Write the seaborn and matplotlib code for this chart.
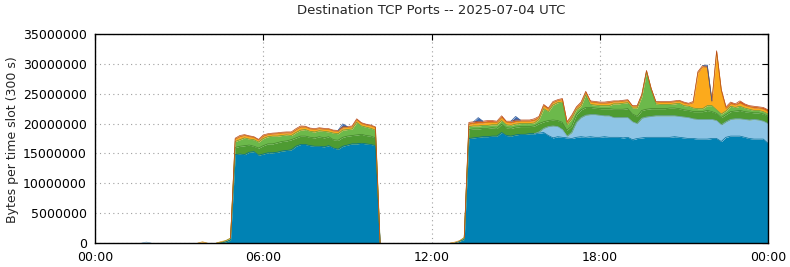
import numpy as np
import pandas as pd
import matplotlib
matplotlib.use("Agg")
import matplotlib.pyplot as plt
import matplotlib.colors as mcolors
from matplotlib.ticker import FuncFormatter, FixedLocator
import seaborn as sns

# ---------------- data (millions of bytes per 300 s slot, read on a 10-min grid) -------------
tick_hours = [0, 6, 12, 18, 24]
tick_labels = ["00:00", "06:00", "12:00", "18:00", "00:00"]
title = "Destination TCP Ports -- 2025-07-04 UTC"
ylabel = "Bytes per time slot (300 s)"

# block 1: 05:00 .. 10:00
teal_b1 = [14.8, 14.9, 14.8, 15.2, 15.3, 14.7, 14.9, 15.1, 15.1, 15.2, 15.4, 15.5, 15.6, 16.2, 16.5,
           16.5, 16.3, 16.2, 16.2, 16.1, 16.3, 15.9, 15.7, 16.2, 16.4, 16.6, 16.6, 16.7, 16.6, 16.5, 16.3]
dgreen_b1 = [1.2, 1.3, 1.5, 1.2, 0.9, 1.2, 1.4, 1.5, 1.5, 1.6, 1.6, 1.6, 1.7, 1.4, 1.4,
             1.4, 1.4, 1.4, 1.6, 1.5, 1.5, 1.4, 1.5, 1.5, 1.5, 1.4, 1.5, 1.5, 1.4, 1.4, 1.3]
lgreen_b1 = [1.0, 1.1, 1.3, 1.0, 1.1, 1.0, 1.2, 1.2, 1.3, 1.1, 1.0, 1.0, 0.7, 0.9, 1.0,
             1.1, 1.0, 1.0, 1.0, 1.1, 0.8, 1.1, 1.1, 1.2, 1.1, 1.1, 2.1, 1.4, 1.4, 1.3, 1.3]
orange_b1 = [0.4, 0.5, 0.4, 0.4, 0.35, 0.3, 0.4, 0.35, 0.35, 0.4, 0.4, 0.35, 0.4, 0.45, 0.5,
             0.4, 0.4, 0.4, 0.35, 0.35, 0.4, 0.35, 0.4, 0.4, 0.35, 0.35, 0.4, 0.4, 0.35, 0.4, 0.4]
red_b1 = [0.15, 0.2, 0.15, 0.15, 0.15, 0.15, 0.2, 0.15, 0.15, 0.15, 0.15, 0.15, 0.2, 0.2, 0.2,
          0.15, 0.15, 0.15, 0.15, 0.15, 0.15, 0.15, 0.15, 0.15, 0.15, 0.15, 0.2, 0.15, 0.15, 0.15, 0.15]
blue_b1 = [0] * 23 + [0.5] + [0] * 7

# block 2: 13:20 .. 24:00
teal_b2 = [17.5, 17.6, 17.7, 17.8, 17.8, 17.9, 17.9, 18.5, 18.0, 17.9, 18.1, 18.2, 18.2, 18.3, 18.3,
           18.4, 18.5, 18.0, 17.6, 17.8, 17.7, 17.6, 17.5, 17.7, 17.8, 17.7, 17.8, 17.7, 17.7, 17.8, 17.7,
           17.7, 17.7, 17.6, 17.7, 17.3, 17.5, 17.6, 17.7, 17.7, 17.7, 17.7, 17.7, 17.7, 17.8, 17.7,
           17.6, 17.5, 17.5, 17.4, 17.4, 17.4, 17.5, 17.5, 17.0, 17.7, 17.9, 17.9, 17.9, 17.7, 17.5,
           17.4, 17.4, 17.4, 16.7]
lblue_b2 = [0] * 15 + [0.2, 0.7, 1.5, 2.0, 1.7, 1.3, 0.3, 1.0, 2.5, 3.2, 3.7, 3.7, 3.8, 3.7, 3.5, 3.6,
            3.3, 3.3, 3.4, 3.3, 3.0, 2.5, 3.3, 3.4, 3.5, 3.6, 3.6, 3.6, 3.6, 3.5, 3.5,
            3.5, 3.5, 3.3, 3.3, 3.3, 3.3, 3.2, 3.0, 2.8, 2.6, 2.8, 2.9, 2.9, 3.0, 3.1,
            3.3, 3.2, 3.0, 3.3]
dgreen_b2 = [1.5, 1.5, 1.4, 1.4, 1.4, 1.4, 1.3, 1.4, 1.3, 1.3, 1.3, 1.3, 1.3, 1.2, 1.3,
             1.4, 1.1, 1.0, 1.0, 1.0, 1.2, 1.0, 1.1, 1.3, 1.3, 1.3, 1.2, 1.1, 1.1, 1.2, 1.2,
             1.4, 1.4, 1.4, 1.5, 1.3, 1.2, 1.3, 1.3, 1.3, 1.2, 1.2, 1.2, 1.3, 1.3, 1.3,
             1.2, 1.2, 1.2, 1.3, 1.3, 1.5, 1.3, 1.2, 1.2, 1.2, 1.3, 1.3, 1.4, 1.3, 1.3,
             1.1, 1.2, 1.2, 1.2]
lgreen_b2 = [0.5, 0.5, 0.5, 0.5, 0.5, 0.5, 0.6, 0.6, 0.5, 0.5, 0.5, 0.5, 0.5, 0.5, 0.5,
             0.7, 2.2, 1.5, 2.5, 3.0, 3.4, 0.9, 1.2, 0.8, 0.6, 2.1, 0.5, 0.5, 0.5, 0.5, 0.5,
             0.9, 0.9, 1.0, 1.0, 1.0, 1.4, 2.3, 6.2, 3.1, 0.8, 0.7, 0.7, 0.6, 0.7, 0.9,
             0.7, 0.7, 0.6, 0.5, 0.5, 0.8, 1.0, 0.6, 0.6, 0.6, 0.9, 0.6, 0.7, 0.6, 0.5,
             0.4, 0.4, 0.4, 0.4]
orange_b2 = [0.4, 0.4, 0.5, 0.4, 0.5, 0.4, 0.4, 0.5, 0.4, 0.4, 0.4, 0.4, 0.4, 0.4, 0.4,
             0.35, 0.45, 0.4, 0.4, 0.35, 0.4, 0.35, 0.4, 0.35, 0.45, 0.4, 0.4, 0.4, 0.4, 0.4, 0.45,
             0.35, 0.35, 0.35, 0.35, 0.3, 0.3, 0.3, 0.2, 0.2, 0.3, 0.35, 0.35, 0.35, 0.35, 0.35,
             0.4, 0.35, 0.9, 6.0, 7.0, 6.4, 0.6, 9.7, 3.9, 0.4, 0.4, 0.4, 0.5, 0.4, 0.4,
             0.4, 0.4, 0.4, 0.4]
red_b2 = [0.3, 0.3, 0.3, 0.3, 0.3, 0.3, 0.2, 0.3, 0.2, 0.3, 0.3, 0.2, 0.2, 0.2, 0.3,
          0.15, 0.25, 0.2, 0.2, 0.15, 0.2, 0.15, 0.2, 0.15, 0.25, 0.2, 0.2, 0.2, 0.2, 0.2, 0.25,
          0.15, 0.15, 0.15, 0.15, 0.1, 0.1, 0.1, 0.1, 0.1, 0.1, 0.15, 0.15, 0.15, 0.15, 0.15,
          0.2, 0.15, 0.2, 0.2, 0.2, 0.2, 0.2, 0.2, 0.2, 0.3, 0.3, 0.2, 0.4, 0.3, 0.2,
          0.3, 0.2, 0.3, 0.3]
blue_b2 = [0, 0, 0.6, 0, 0, 0, 0, 0, 0, 0, 0.6] + [0] * 40 + [0.2] + [0] * 13

# full day on the 10-minute grid: night (00:00-04:50), block 1, gap (10:10-13:10), block 2
teal = [0] * 28 + [0.2, 0.5] + teal_b1 + [0] * 17 + [0.3, 0.6] + teal_b2
lblue = [0] * 11 + [0.15] + [0] * 18 + [0] * 31 + [0] * 19 + lblue_b2
dgreen = [0] * 27 + [0.1, 0.2, 0.3] + dgreen_b1 + [0] * 18 + [0.3] + dgreen_b2
lgreen = [0] * 30 + lgreen_b1 + [0] * 19 + lgreen_b2
orange = [0] * 23 + [0.2, 0, 0, 0, 0.15, 0, 0] + orange_b1 + [0] * 16 + [0.15, 0.1, 0] + orange_b2
red = [0] * 30 + red_b1 + [0] * 19 + red_b2
blue = [0] * 30 + blue_b1 + [0] * 19 + blue_b2

hours = np.arange(len(teal)) / 6.0

layers = ["teal", "lblue", "dgreen", "lgreen", "orange", "red", "blue"]
colors = ["#0082b4", "#8dc4e5", "#4e9b32", "#6cb94b", "#fcaa1c", "#d8561e", "#3a6bb5"]

df = pd.DataFrame({"hour": hours, "teal": teal, "lblue": lblue, "dgreen": dgreen,
                   "lgreen": lgreen, "orange": orange, "red": red, "blue": blue})

# ---------------- plot -------------
sns.set_style("white")
plt.rcParams["font.family"] = ["DejaVu Sans"]

fig = plt.figure(figsize=(7.9, 2.67), dpi=100)
ax = fig.add_axes([95 / 790, 24 / 267, 673 / 790, 209 / 267])

base = np.zeros(len(df))
for name, col in zip(layers, colors):
    thick = df[name].to_numpy() * 1e6
    top = base + thick
    ax.fill_between(df["hour"], base, top, color=col, linewidth=0, zorder=2)
    # outline only where this layer is present (plus neighbouring slots)
    on = thick > 0
    ext = on | np.roll(on, 1) | np.roll(on, -1)
    ext[0] = on[0] or on[1]
    ext[-1] = on[-1] or on[-2]
    seg = np.cumsum(~ext)
    edge_df = pd.DataFrame({"hour": df["hour"], "y": top, "seg": seg})[ext]
    if len(edge_df):
        edge = tuple(c * 0.85 for c in mcolors.to_rgb(col))
        sns.lineplot(data=edge_df, x="hour", y="y", units="seg", estimator=None, ax=ax,
                     color=edge, linewidth=0.5, zorder=3, legend=False)
    base = top

ax.set_xlim(0, 24)
ax.set_ylim(0, 35e6)
ax.xaxis.set_major_locator(FixedLocator(tick_hours))
ax.set_xticklabels(tick_labels)
ax.set_yticks(np.arange(0, 35e6 + 1, 5e6))
ax.yaxis.set_major_formatter(FuncFormatter(lambda v, p: f"{int(round(v))}"))
ax.set_xlabel("")
ax.set_ylabel("")

ax.set_axisbelow(True)
ax.grid(True, linestyle=(0, (1, 3)), color="#a0a0a0", linewidth=0.8)
for s in ax.spines.values():
    s.set_color("black")
    s.set_linewidth(1.0)
    s.set_zorder(5)
ax.tick_params(direction="in", length=4, width=0.8, top=True, right=True,
               labelsize=9, colors="black")
ax.tick_params(axis="y", pad=6)
ax.tick_params(axis="x", pad=5.5)

fig.text(431.5 / 790, 1 - 11 / 267, title, ha="center", va="center", fontsize=9.5)
fig.text(12.5 / 790, 1 - 140 / 267, ylabel, ha="center", va="center", rotation=90, fontsize=9)

fig.savefig("out.png", dpi=100)
